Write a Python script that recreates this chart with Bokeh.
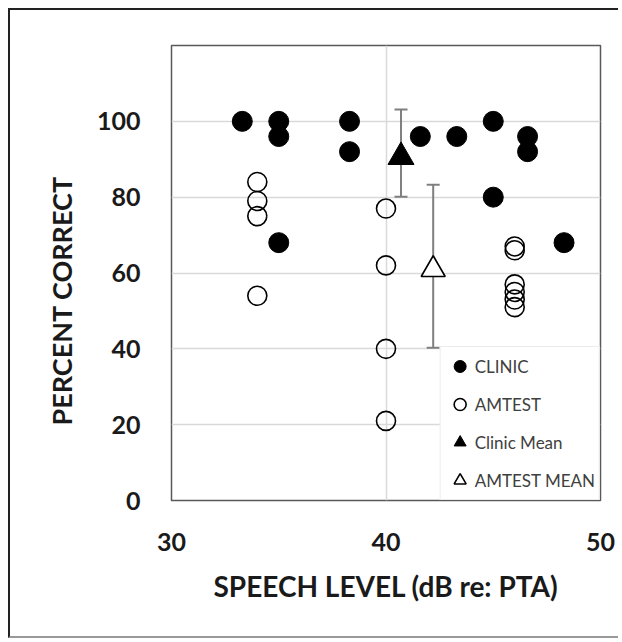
from bokeh.plotting import figure
from bokeh.models import ColumnDataSource, FixedTicker, Whisker, TeeHead, Legend, LegendItem, Title
from bokeh.transform import dodge
from bokeh.embed import file_html
from bokeh.resources import INLINE

# ---- data ----
clinic_x = [33.3, 35.0, 35.0, 38.3, 38.3, 35.0, 41.6, 43.3, 45.0, 45.0, 46.6, 46.6, 48.3]
clinic_y = [100, 100, 96, 100, 92, 68, 96, 96, 100, 80, 96, 92, 68]

amtest_x = [34, 34, 34, 34, 40, 40, 40, 40, 46, 46, 46, 46, 46, 46]
amtest_y = [84, 79, 75, 54, 77, 62, 40, 21, 67, 66, 57, 55, 53, 51]

clinic_mean_x = [40.7]
clinic_mean_y = [91.6]
clinic_mean_err = [11.5]

amtest_mean_x = [42.2]
amtest_mean_y = [61.8]
amtest_mean_err = [21.5]

x_ticks = [30, 40, 50]
y_ticks = [0, 20, 40, 60, 80, 100]

FONT = "Lato"

p = figure(width=610, height=630, x_range=(30, 50), y_range=(0, 120),
           output_backend="svg", toolbar_location=None,
           min_border_left=161, min_border_top=35, min_border_right=20, min_border_bottom=140)
p.styles = {"margin-left": "8px", "margin-top": "8px",
            "border-left": "2px solid #222", "border-top": "2px solid #222",
            "border-bottom": "2px solid #999"}

p.outline_line_color = "#595959"
p.outline_line_width = 1.5
p.background_fill_color = "white"
p.border_fill_color = "white"

p.xaxis.ticker = FixedTicker(ticks=x_ticks)
p.yaxis.ticker = FixedTicker(ticks=y_ticks)
p.xgrid.ticker = FixedTicker(ticks=[40])
p.ygrid.ticker = FixedTicker(ticks=[20, 40, 60, 80, 100])
for g in (p.xgrid, p.ygrid):
    g.grid_line_color = "#d9d9d9"
    g.grid_line_width = 1.5

for ax in (p.xaxis, p.yaxis):
    ax.axis_line_color = None
    ax.major_tick_line_color = None
    ax.minor_tick_line_color = None
    ax.major_label_text_font = FONT
    ax.major_label_text_font_style = "bold"
    ax.major_label_text_font_size = "25px"
    ax.major_label_text_color = "#1a1a1a"

p.xaxis.axis_label = "SPEECH LEVEL (dB re: PTA)"
p.xaxis.axis_label_text_font = FONT
p.xaxis.axis_label_text_font_style = "bold"
p.xaxis.axis_label_text_font_size = "28px"
p.xaxis.axis_label_text_color = "#1a1a1a"
p.xaxis.major_label_standoff = 26
p.xaxis.axis_label_standoff = 15
p.yaxis.major_label_standoff = 25

# y-axis title, placed lower than the frame centre as in the reference
ytitle = Title(text="PERCENT CORRECT", align="left", offset=75, standoff=32,
               text_font=FONT, text_font_style="bold", text_font_size="27px",
               text_color="#1a1a1a")
p.add_layout(ytitle, "left")

# error bars
cm_src = ColumnDataSource(dict(x=clinic_mean_x, y=clinic_mean_y,
                               lo=[m - e for m, e in zip(clinic_mean_y, clinic_mean_err)],
                               hi=[m + e for m, e in zip(clinic_mean_y, clinic_mean_err)]))
am_src = ColumnDataSource(dict(x=amtest_mean_x, y=amtest_mean_y,
                               lo=[m - e for m, e in zip(amtest_mean_y, amtest_mean_err)],
                               hi=[m + e for m, e in zip(amtest_mean_y, amtest_mean_err)]))
for src in (cm_src, am_src):
    w = Whisker(source=src, base="x", lower="lo", upper="hi", dimension="height",
                line_color="#7f7f7f", line_width=2,
                upper_head=TeeHead(size=13, line_color="#7f7f7f", line_width=2),
                lower_head=TeeHead(size=13, line_color="#7f7f7f", line_width=2))
    w.level = "underlay"
    p.add_layout(w)

r_clinic = p.scatter(clinic_x, clinic_y, marker="circle", size=20,
                     fill_color="black", line_color="black")
r_amtest = p.scatter(amtest_x, amtest_y, marker="circle", size=19,
                     fill_color=None, line_color="black", line_width=1.6)
# Bokeh centres triangles on their centroid; shift slightly so the box centre sits on the mean
r_cmean = p.scatter("x", dodge("y", -1.0, range=p.y_range), source=cm_src, marker="triangle", size=26,
                    fill_color="black", line_color="black")
r_amean = p.scatter("x", dodge("y", -0.9, range=p.y_range), source=am_src, marker="triangle", size=24,
                    fill_color="white", line_color="black", line_width=1.6)

legend = Legend(items=[
    LegendItem(label="CLINIC", renderers=[r_clinic]),
    LegendItem(label="AMTEST", renderers=[r_amtest]),
    LegendItem(label="Clinic Mean", renderers=[r_cmean]),
    LegendItem(label="AMTEST MEAN", renderers=[r_amean]),
], location="bottom_right")
legend.margin = 0
legend.padding = 4
legend.spacing = 8
legend.glyph_width = 30
legend.glyph_height = 30
legend.label_height = 30
legend.label_standoff = 0
legend.label_text_font = FONT
legend.label_text_font_size = "17px"
legend.label_text_color = "#404040"
legend.border_line_color = "#d9d9d9"
legend.border_line_width = 1.5
legend.background_fill_color = "white"
legend.background_fill_alpha = 1.0
p.add_layout(legend)

open("out.html", "w").write(file_html(p, INLINE))
